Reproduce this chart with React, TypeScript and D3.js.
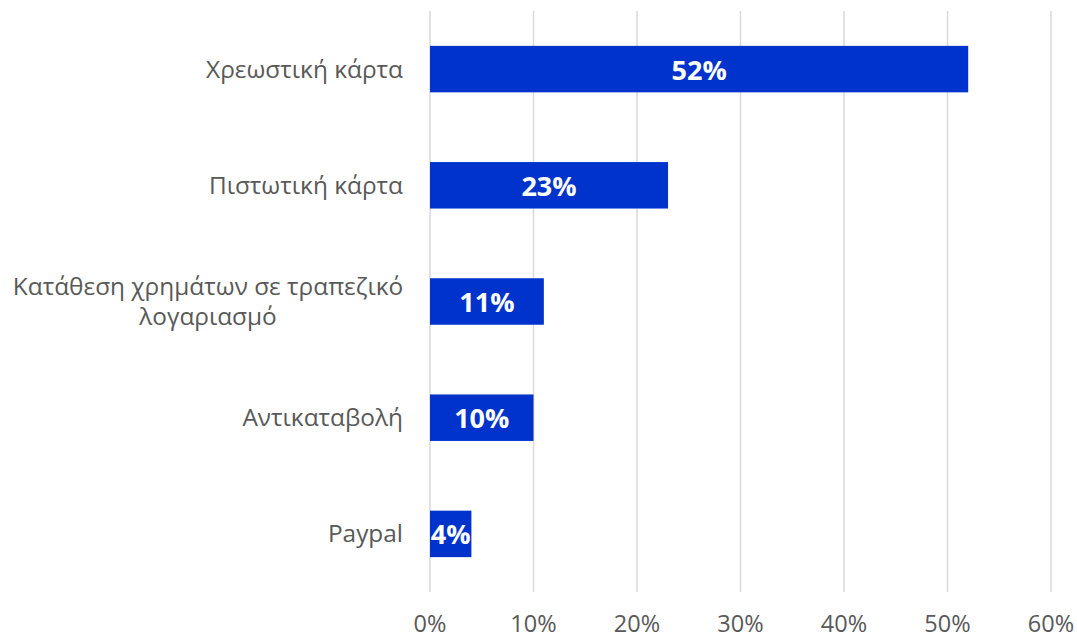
import React from "react";
import * as d3 from "d3";

const categories = [
  ["Χρεωστική κάρτα"],
  ["Πιστωτική κάρτα"],
  ["Κατάθεση χρημάτων σε τραπεζικό", "λογαριασμό"],
  ["Αντικαταβολή"],
  ["Paypal"],
];
const values = [52, 23, 11, 10, 4];
const ticks = [0, 10, 20, 30, 40, 50, 60];

const W = 1077;
const H = 638;
const left = 430;
const right = 1051;
const top = 11;
const bottom = 592;
const font = "'Open Sans', sans-serif";

export default function App() {
  const x = d3.scaleLinear().domain([0, 60]).range([left, right]);
  const ids = categories.map((_, i) => String(i));
  const y = d3.scaleBand<string>().domain(ids).range([top, bottom]).paddingInner(0.6).paddingOuter(0.3);
  return (
    <svg width={W} height={H} style={{ position: "absolute", left: 0, top: 0 }}>
      <rect width={W} height={H} fill="#fff" />
      {ticks.map((t) => (
        <g key={t}>
          <line x1={x(t)} x2={x(t)} y1={top} y2={bottom} stroke="#d9d9d9" strokeWidth={1.5} />
          <text x={x(t)} y={632} textAnchor="middle" fontFamily={font} fontSize={23.5} fill="#595959">
            {t}%
          </text>
        </g>
      ))}
      {values.map((v, i) => {
        const yy = y(String(i))!;
        const bw = y.bandwidth();
        const lines = categories[i];
        const cy = yy + bw / 2;
        return (
          <g key={i}>
            <rect x={x(0)} y={yy} width={x(v) - x(0)} height={bw} fill="#0033cc" />
            <text x={(x(0) + x(v)) / 2} y={cy + 10.5} textAnchor="middle" fontFamily={font} fontWeight="bold" fontSize={27} fill="#fff">
              {v}%
            </text>
            {lines.map((l, j) => (
              <text
                key={j}
                x={lines.length > 1 ? 208 : 403}
                y={cy + 8.5 + (j - (lines.length - 1) / 2) * 30}
                textAnchor={lines.length > 1 ? "middle" : "end"}
                fontFamily={font}
                fontSize={24.4}
                fill="#595959"
              >
                {l}
              </text>
            ))}
          </g>
        );
      })}
    </svg>
  );
}
